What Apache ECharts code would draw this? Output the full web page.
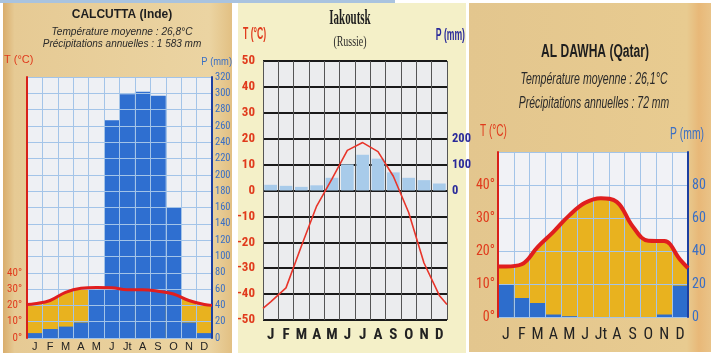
<!DOCTYPE html>
<html><head><meta charset="utf-8">
<script src="https://cdn.jsdelivr.net/npm/echarts@6/dist/echarts.min.js"></script>
<style>html,body{margin:0;padding:0;background:#fff}#c{width:711px;height:357px}</style>
</head><body><div id="c"></div>
<script>
// ---------- DATA ----------
const monthsCalcutta = ['J','F','M','A','M','J','Jt','A','S','O','N','D'];
const calcuttaPrecip = [6, 11, 14, 19, 59, 267, 299, 302, 297, 160, 19, 6];
const calcuttaTemp = [21, 23, 28, 30.5, 31, 30.8, 29.6, 29.6, 28.7, 27, 23, 20.5];
const calcuttaTempEdges = [20.5, 20];
const calcuttaTTicks = [0, 10, 20, 30, 40];

const monthsIakoutsk = ['J','F','M','A','M','J','J','A','S','O','N','D'];
const iakoutskPrecip = [22, 18, 14, 20, 49, 101, 138, 123, 70, 49, 40, 27];
const iakoutskTemp = [-43, -37.6, -21.5, -6, 4.5, 15.5, 18.5, 15, 5.5, -8.5, -28, -40.5];
const iakoutskTempEdges = [-45.5, -44];
const iakoutskPTicks = [0, 100, 200];

const monthsDawha = ['J','F','M','A','M','J','Jt','A','S','O','N','D'];
const dawhaPrecip = [19.5, 11.5, 8.5, 1.5, 0.5, 0, 0, 0, 0, 0, 1.5, 19];
const dawhaTemp = [15.3, 16, 21.2, 25.8, 30.8, 34.6, 36, 34.9, 27.5, 23.1, 23, 17.4];
const dawhaTempEdges = [15.3, 14.8];
const dawhaTTicks = [0, 10, 20, 30, 40];

// ---------- helpers ----------
function edgeLine(vals, edges) {
  const out = [[0, edges[0]]];
  vals.forEach((v, i) => out.push([i + 0.5, v]));
  out.push([12, edges[1]]);
  return out;
}
const SANS = '"Liberation Sans",Arial,sans-serif';
const SERIF = '"Liberation Serif","DejaVu Serif",serif';

// detect a condensed font, if any is installed
const mctx = document.createElement('canvas').getContext('2d');
function widthOf(font) { mctx.font = font; return mctx.measureText('Température 0123456789 mm').width; }
const baseW = widthOf('20px "Liberation Sans"');
let NARROW = null;
['Liberation Sans Narrow','DejaVu Sans Condensed','Arial Narrow','Roboto Condensed','Open Sans Condensed'].some(name => {
  const a = widthOf('20px "' + name + '", monospace'), b = widthOf('20px monospace');
  const c = widthOf('20px "' + name + '", serif'), d = widthOf('20px serif');
  if ((a !== b || c !== d) && a / baseW < 0.92) { NARROW = '"' + name + '",' + SANS; return true; }
  return false;
});
function nSize(s) { return NARROW ? s : Math.round(s * 0.85 * 2) / 2; }
const NF = NARROW || SANS;

const RED = '#e03a1c';
const TRED = '#e01e1e';
const GOLD = '#e8b21f';
const BLUE = '#2f6fd0';
const GRIDBLUE = '#a3c4e8';

const chart = echarts.init(document.getElementById('c'));

function txt(text, x, y, font, fill, align, sx) {
  return {type:'text', z: 50, x, y, scaleX: sx || 1,
    style:{text, x:0, y:0, font, fill, align: align || 'center', verticalAlign:'middle'}};
}

const option = {
  animation: false,
  backgroundColor: '#ffffff',
  graphic: [
    {type:'rect', z:-10, shape:{x:0,y:0,width:395,height:3}, style:{fill:'#a9c3df'}},
    {type:'rect', z:-10, shape:{x:3,y:3,width:229,height:350}, style:{fill:new echarts.graphic.LinearGradient(0,0,1,0,[{offset:0,color:'#d9ad6c'},{offset:0.05,color:'#e6ca94'},{offset:0.9,color:'#ebd4a2'},{offset:1,color:'#e2c083'}])}},
    {type:'rect', z:-10, shape:{x:238,y:3,width:228,height:350}, style:{fill:'#f4f0c8'}},
    {type:'rect', z:-10, shape:{x:469,y:3,width:242,height:349}, style:{fill:new echarts.graphic.LinearGradient(0,0,1,0,[{offset:0,color:'#e3c68e'},{offset:0.9,color:'#e8cb90'},{offset:0.95,color:'#e8b878'},{offset:1,color:'#e9c388'}])}},
    // Calcutta texts
    txt('CALCUTTA (Inde)', 122, 15, 'bold 12px ' + SANS, '#1e1e1e'),
    txt('Température moyenne : 26,8°C', 122, 32, 'italic 11px ' + SANS, '#2a2a2a', 'center', 0.92),
    txt('Précipitations annuelles : 1 583 mm', 122, 44, 'italic 11px ' + SANS, '#2a2a2a', 'center', 0.91),
    txt('T (°C)', 4, 60, '11px ' + SANS, RED, 'left', 1),
    txt('P (mm)', 232, 62, '11px ' + SANS, '#3a6fc4', 'right', 0.85),
    // Iakoutsk texts
    txt('Iakoutsk', 350, 19, 'bold 21px ' + SERIF, '#1e1e1e', 'center', 0.52),
    txt('(Russie)', 350, 42, '14px ' + SERIF, '#2a2a2a', 'center', 0.71),
    txt('T (°C)', 243, 35, 'bold 16px ' + SANS, RED, 'left', 0.54),
    txt('P (mm)', 465, 36, 'bold 16px ' + SANS, '#2a2a9a', 'right', 0.54),
    // Al Dawha texts
    txt('AL DAWHA (Qatar)', 595, 52, 'bold 18px ' + SANS, '#1e1e1e', 'center', 0.67),
    txt('Température moyenne : 26,1°C', 594, 80, 'italic 16px ' + SANS, '#2a2a2a', 'center', 0.66),
    txt('Précipitations annuelles : 72 mm', 594, 104, 'italic 16px ' + SANS, '#2a2a2a', 'center', 0.65),
    txt('T (°C)', 480, 131, '17px ' + SANS, RED, 'left', 0.59),
    txt('P (mm)', 704, 134, '17px ' + SANS, '#3a6fc4', 'right', 0.61)
  ],
  grid: [
    {left:27, top:77, width:185, height:261, show:true, backgroundColor:'#eef0f4', borderWidth:0},
    {left:263, top:61, width:184, height:259, show:true, backgroundColor:'#ebecee', borderWidth:0},
    {left:498, top:152, width:190, height:165, show:true, backgroundColor:'#f1f2f6', borderWidth:0}
  ],
  xAxis: [
    {type:'category', gridIndex:0, data:monthsCalcutta, z:3,
     axisLine:{show:false}, axisTick:{show:false},
     axisLabel:{margin:3, color:'#222', fontSize:11, fontFamily:SANS, interval:0},
     splitLine:{show:true, interval:0, lineStyle:{color:GRIDBLUE, width:1}}},
    {type:'value', gridIndex:0, min:0, max:12, show:false},
    {type:'category', gridIndex:1, data:monthsIakoutsk,
     axisLine:{show:false}, axisTick:{show:false},
     axisLabel:{margin:8, color:'#222', fontSize:nSize(15), fontWeight:'bold', fontFamily:NF, interval:0},
     splitLine:{show:true, interval:0, lineStyle:{color:'#555', width:1}}},
    {type:'value', gridIndex:1, min:0, max:12, show:false},
    {type:'category', gridIndex:2, data:monthsDawha, z:3,
     axisLine:{show:false}, axisTick:{show:false},
     axisLabel:{margin:10, color:'#222', fontSize:nSize(16), fontFamily:NF, interval:0},
     splitLine:{show:true, interval:0, lineStyle:{color:GRIDBLUE, width:1}}},
    {type:'value', gridIndex:2, min:0, max:12, show:false}
  ],
  yAxis: [
    {type:'value', gridIndex:0, position:'left', min:0, max:160, interval:10, z:3,
     axisLine:{show:true, lineStyle:{color:'#d8201a', width:2}}, axisTick:{show:false},
     axisLabel:{margin:5, color:RED, fontSize:11, fontFamily:NF,
       formatter: v => calcuttaTTicks.indexOf(v) >= 0 ? v + '°' : ''},
     splitLine:{show:false}},
    {type:'value', gridIndex:0, position:'right', min:0, max:320, interval:20, z:3,
     axisLine:{show:true, lineStyle:{color:'#1d3fa0', width:2}}, axisTick:{show:false},
     axisLabel:{margin:3, color:'#3a6fc4', fontSize:nSize(10.5), fontFamily:NF},
     splitLine:{show:true, lineStyle:{color:GRIDBLUE, width:1}}},
    {type:'value', gridIndex:1, position:'left', min:-50, max:50, interval:10,
     axisLine:{show:false}, axisTick:{show:false},
     axisLabel:{margin:8, color:RED, fontSize:nSize(13), fontWeight:'bold', fontFamily:NF},
     splitLine:{show:true, lineStyle:{color:'#1a1a1a', width:2}}},
    {type:'value', gridIndex:1, position:'right', min:-500, max:500, interval:100,
     axisLine:{show:false}, axisTick:{show:false},
     axisLabel:{margin:5, color:'#2a2a9a', fontSize:nSize(12.5), fontWeight:'bold', fontFamily:NF,
       formatter: v => iakoutskPTicks.indexOf(v) >= 0 ? String(v) : ''},
     splitLine:{show:false}},
    {type:'value', gridIndex:2, position:'left', min:0, max:50, interval:10, z:3,
     axisLine:{show:true, lineStyle:{color:'#d8201a', width:2}}, axisTick:{show:false},
     axisLabel:{margin:3, color:RED, fontSize:nSize(14), fontFamily:NF,
       formatter: v => dawhaTTicks.indexOf(v) >= 0 ? v + '°' : ''},
     splitLine:{show:true, lineStyle:{color:GRIDBLUE, width:1}}},
    {type:'value', gridIndex:2, position:'right', min:0, max:100, interval:20, z:3,
     axisLine:{show:true, lineStyle:{color:'#1d3fa0', width:2}}, axisTick:{show:false},
     axisLabel:{margin:4, color:'#3a6fc4', fontSize:nSize(14), fontFamily:NF,
       formatter: v => v <= 80 ? String(v) : ''},
     splitLine:{show:false}}
  ],
  series: [
    // Calcutta
    {type:'line', xAxisIndex:1, yAxisIndex:0, data:edgeLine(calcuttaTemp, calcuttaTempEdges), smooth:0.4, symbol:'none',
     lineStyle:{width:0}, areaStyle:{color:GOLD, opacity:1}, z:1},
    {type:'bar', xAxisIndex:0, yAxisIndex:1, data:calcuttaPrecip, barCategoryGap:'0%', itemStyle:{color:BLUE}, z:2},
    {type:'line', xAxisIndex:1, yAxisIndex:0, data:edgeLine(calcuttaTemp, calcuttaTempEdges), smooth:0.4, symbol:'none',
     lineStyle:{width:3, color:TRED}, z:5},
    // Iakoutsk
    {type:'bar', xAxisIndex:2, yAxisIndex:3, data:iakoutskPrecip, barCategoryGap:'17%', itemStyle:{color:'#a8cbea'}, z:2},
    {type:'line', xAxisIndex:3, yAxisIndex:2, data:edgeLine(iakoutskTemp, iakoutskTempEdges), smooth:false, symbol:'none',
     lineStyle:{width:1.6, color:'#e8352a'}, z:5},
    // Al Dawha
    {type:'line', xAxisIndex:5, yAxisIndex:4, data:edgeLine(dawhaTemp, dawhaTempEdges), smooth:0.4, symbol:'none',
     lineStyle:{width:0}, areaStyle:{color:GOLD, opacity:1}, z:1},
    {type:'bar', xAxisIndex:4, yAxisIndex:5, data:dawhaPrecip, barCategoryGap:'0%', itemStyle:{color:'#2d6dcc'}, z:2},
    {type:'line', xAxisIndex:5, yAxisIndex:4, data:edgeLine(dawhaTemp, dawhaTempEdges), smooth:0.4, symbol:'none',
     lineStyle:{width:4, color:TRED}, z:5}
  ]
};
chart.setOption(option);
</script>
</body></html>
